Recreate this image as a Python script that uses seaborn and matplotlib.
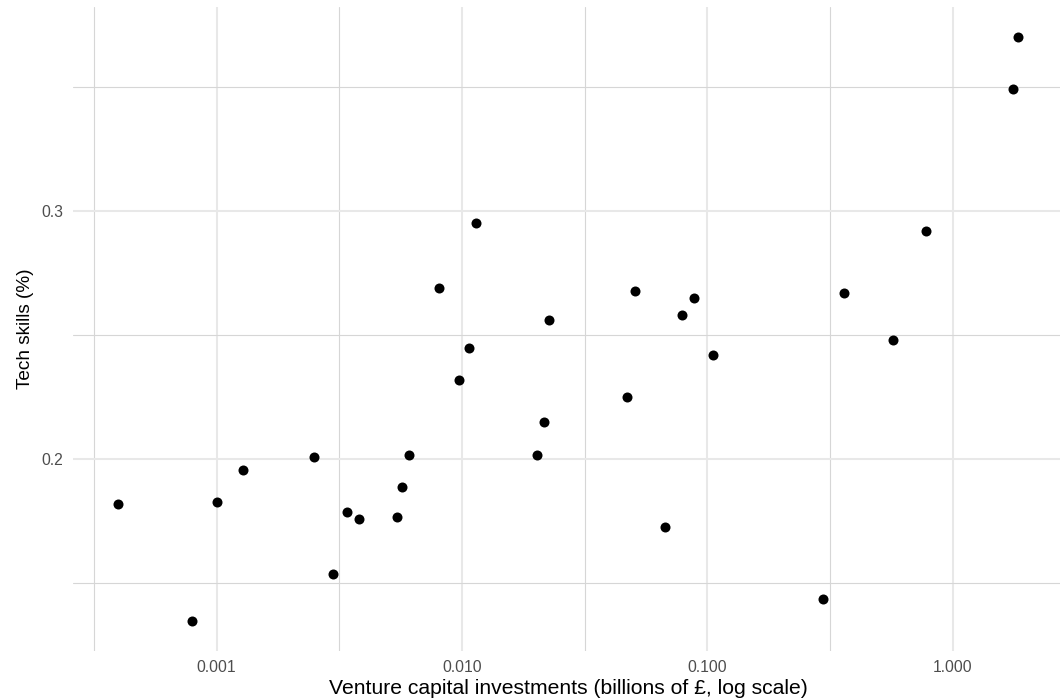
import matplotlib
matplotlib.use("Agg")
import matplotlib.pyplot as plt
import numpy as np
import pandas as pd
import seaborn as sns
from matplotlib.ticker import FixedLocator, FixedFormatter, NullFormatter

# Venture capital investment (billions of £) and share of tech skills (%) per area
vc_investment = [
    0.000398, 0.000797, 0.001, 0.00128, 0.00249, 0.00299, 0.00341, 0.00381,
    0.00546, 0.0057, 0.0061, 0.00809, 0.00971, 0.01072, 0.01145, 0.0203,
    0.0216, 0.02258, 0.0471, 0.0509, 0.0672, 0.0791, 0.0880, 0.1052,
    0.296, 0.3614, 0.571, 0.778, 1.756, 1.851,
]
tech_skills = [
    0.1815, 0.1344, 0.1826, 0.1955, 0.2005, 0.1534, 0.1784, 0.1755,
    0.1765, 0.1885, 0.2014, 0.2688, 0.2315, 0.2447, 0.2948, 0.2014,
    0.2146, 0.2557, 0.2247, 0.2677, 0.1724, 0.2577, 0.2647, 0.2416,
    0.1433, 0.2667, 0.2477, 0.2917, 0.3489, 0.3701,
]

x_ticks = [0.001, 0.01, 0.1, 1.0]
x_tick_labels = ["0.001", "0.010", "0.100", "1.000"]
x_minor = [10 ** -3.5, 10 ** -2.5, 10 ** -1.5, 10 ** -0.5]
y_ticks = [0.2, 0.3]
y_tick_labels = ["0.2", "0.3"]
y_minor = [0.15, 0.25, 0.35]

sns.set_theme(style="white")
plt.rcParams["font.family"] = ["Liberation Sans", "DejaVu Sans"]

df = pd.DataFrame({"vc": vc_investment, "tech": tech_skills})

fig = plt.figure(figsize=(10.6, 7), dpi=100)
ax = fig.add_axes([73 / 1060, 49.5 / 700, 990 / 1060, 643.1 / 700])

sns.scatterplot(data=df, x="vc", y="tech", ax=ax, color="black",
                s=52, linewidth=0, zorder=3)

ax.set_xscale("log")
ax.set_xlim(10 ** -3.585, 10 ** 0.449)
ax.set_ylim(0.1226, 0.3819)

ax.xaxis.set_major_locator(FixedLocator(x_ticks))
ax.xaxis.set_major_formatter(FixedFormatter(x_tick_labels))
ax.xaxis.set_minor_locator(FixedLocator(x_minor))
ax.xaxis.set_minor_formatter(NullFormatter())
ax.yaxis.set_major_locator(FixedLocator(y_ticks))
ax.yaxis.set_major_formatter(FixedFormatter(y_tick_labels))
ax.yaxis.set_minor_locator(FixedLocator(y_minor))
ax.yaxis.set_minor_formatter(NullFormatter())

ax.set_axisbelow(True)
ax.grid(which="major", color="#e8e8e8", linewidth=1.5)
ax.grid(which="minor", color="#d6d6d6", linewidth=0.8)
for sp in ax.spines.values():
    sp.set_visible(False)

ax.tick_params(which="both", length=0, labelsize=11.3, labelcolor="#4d4d4d")
ax.tick_params(axis="x", pad=7)
ax.tick_params(axis="y", pad=7)

ax.set_xlabel("Venture capital investments (billions of £, log scale)",
              fontsize=15.2, color="black", labelpad=3)
ax.set_ylabel("Tech skills (%)", fontsize=13.7, color="black", labelpad=5)

fig.savefig("out.png", dpi=100, facecolor="white")
